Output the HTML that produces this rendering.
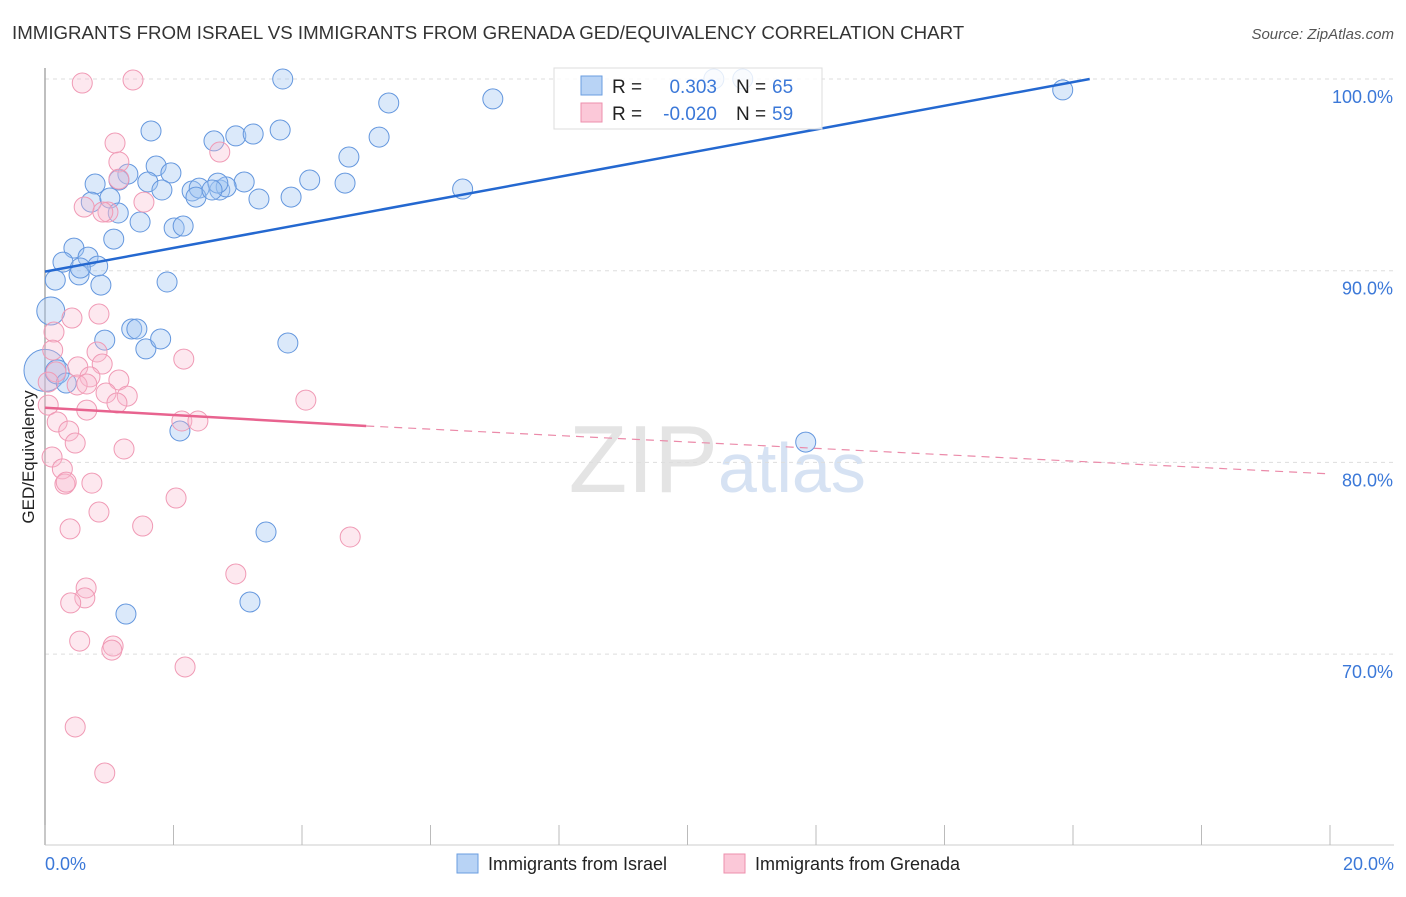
<!DOCTYPE html>
<html><head><meta charset="utf-8">
<style>
body{margin:0;background:#fff;font-family:"Liberation Sans",sans-serif;}
svg text{font-family:"Liberation Sans",sans-serif;}
</style></head>
<body>
<svg id="chart" width="1406" height="892" xmlns="http://www.w3.org/2000/svg">
<text x="12" y="39" font-size="18.7" fill="#333">IMMIGRANTS FROM ISRAEL VS IMMIGRANTS FROM GRENADA GED/EQUIVALENCY CORRELATION CHART</text>
<text x="1394" y="39" font-size="15" fill="#555" font-style="italic" text-anchor="end">Source: ZipAtlas.com</text>
<text x="718" y="492" font-size="96" fill="#e4e4e4" text-anchor="end" font-family="Liberation Serif">ZIP</text>
<text x="718" y="492" font-size="70" fill="#d6e2f3">atlas</text>
<g id="grid"></g>
<g id="axes"></g>
<g id="points"></g>
<g id="trends"></g>
<text transform="translate(34,457) rotate(-90)" font-size="17" fill="#222" text-anchor="middle">GED/Equivalency</text>
<g>
<rect x="554" y="68" width="268" height="61" fill="rgba(255,255,255,0.82)" stroke="#ddd"/>
<rect x="581" y="76" width="21" height="19" fill="#b8d3f5" stroke="#6a9ee0"/>
<rect x="581" y="103" width="21" height="19" fill="#fbc8d8" stroke="#ee8fad"/>
<text x="612" y="93" font-size="19" fill="#222">R =</text>
<text x="717" y="93" font-size="19" fill="#3b78d8" text-anchor="end">0.303</text>
<text x="736" y="93" font-size="19" fill="#222">N =</text>
<text x="772" y="93" font-size="19" fill="#3b78d8">65</text>
<text x="612" y="120" font-size="19" fill="#222">R =</text>
<text x="717" y="120" font-size="19" fill="#3b78d8" text-anchor="end">-0.020</text>
<text x="736" y="120" font-size="19" fill="#222">N =</text>
<text x="772" y="120" font-size="19" fill="#3b78d8">59</text>
</g>
<g>
<rect x="457" y="854" width="21" height="19" fill="#b8d3f5" stroke="#6a9ee0"/>
<text x="488" y="870" font-size="18" fill="#222">Immigrants from Israel</text>
<rect x="724" y="854" width="21" height="19" fill="#fbc8d8" stroke="#ee8fad"/>
<text x="755" y="870" font-size="18" fill="#222">Immigrants from Grenada</text>
</g>
</svg>
<script>
const yTicks=[100,90,80,70];
const yTickLabels=["100.0%","90.0%","80.0%","70.0%"];
const xTickLabels=["0.0%","20.0%"];
const israelX=[3.70,10.41,10.86,5.35,6.97,15.84,1.65,5.20,2.63,2.97,3.24,3.66,4.73,1.73,1.29,1.96,0.78,1.60,1.15,4.12,4.67,3.10,6.50,1.82,2.29,2.40,2.35,2.72,2.82,2.69,2.60,3.33,3.83,0.72,1.01,1.14,1.48,2.01,2.15,1.07,0.45,0.67,0.28,0.82,0.53,0.55,0.16,0.87,1.90,0.09,1.35,1.43,0.93,1.57,1.80,3.78,0.0,0.19,0.33,2.10,11.84,3.44,1.26,3.19];
const israelY=[100.0,100.0,100.0,98.75,98.96,99.43,97.29,96.97,96.77,97.03,97.13,97.34,95.93,95.46,95.04,95.10,94.52,94.63,94.73,94.73,94.57,94.63,94.26,94.21,94.16,94.31,93.84,94.21,94.37,94.57,94.21,93.74,93.84,93.58,93.79,93.01,92.54,92.23,92.33,91.65,91.18,90.71,90.45,90.24,89.78,90.14,89.51,89.25,89.41,87.90,86.96,86.96,86.38,85.92,86.44,86.23,84.8,84.72,84.14,81.64,81.06,76.37,72.09,72.72];
const israelSize=[10,10,10,10,10,10,10,10,10,10,10,10,10,10,10,10,10,10,10,10,10,10,10,10,10,10,10,10,10,10,10,10,10,10,10,10,10,10,10,10,10,10,10,10,10,10,10,10,10,14,10,10,10,10,10,10,21,12,10,10,10,10,10,10];
const grenadaX=[0.58,1.37,1.09,1.15,2.72,1.15,0.61,0.98,0.90,1.54,0.14,0.42,0.84,0.12,0.81,2.16,0.51,0.89,0.17,0.05,0.70,0.50,1.15,0.65,0.95,1.28,4.06,0.05,1.12,0.65,0.19,2.13,2.38,0.37,0.47,1.23,0.11,0.27,0.31,0.33,0.73,2.04,0.84,0.39,1.52,4.75,2.97,0.64,0.62,0.40,0.54,1.06,1.04,2.18,0.47,0.93];
const grenadaY=[99.79,99.95,96.66,95.67,96.19,94.78,93.32,93.06,93.06,93.58,86.80,87.53,87.74,85.86,85.76,85.39,84.98,85.13,84.72,84.19,84.46,84.04,84.30,84.09,83.62,83.46,83.25,82.99,83.10,82.73,82.11,82.16,82.16,81.64,81.01,80.70,80.28,79.66,78.87,78.97,78.92,78.14,77.41,76.53,76.68,76.11,74.18,73.45,72.93,72.67,70.68,70.42,70.21,69.33,66.20,63.80];
const israelTrend=[[0,89.95],[16.26,100]];
const grenadaTrendSolid=[[0,82.85],[5.0,81.9]];
const grenadaTrendDash=[[5.0,81.9],[20,79.4]];

const NS="http://www.w3.org/2000/svg";
const X0=45,X1=1330,Y100=79,PXPER=19.17;
function sx(v){return X0+(X1-X0)*v/20;}
function sy(v){return Y100+(100-v)*PXPER;}
function mk(tag,attrs,parent){const e=document.createElementNS(NS,tag);for(const k in attrs)e.setAttribute(k,attrs[k]);parent.appendChild(e);return e;}
const grid=document.getElementById('grid'),axes=document.getElementById('axes'),pts=document.getElementById('points'),tr=document.getElementById('trends');
yTicks.forEach((t,i)=>{
  const l=mk('line',{x1:X0,x2:1394,y1:sy(t),y2:sy(t),stroke:'#ddd','stroke-dasharray':'4,4'},grid);
  
  
  const tx=mk('text',{x:1393,y:sy(t)+24,'font-size':18,fill:'#3b78d8','text-anchor':'end'},axes);
  tx.textContent=yTickLabels[i];
  
  
});
const ax=mk('line',{x1:X0,x2:X0,y1:68,y2:845,stroke:'#aaa','stroke-width':1.5},axes);


const bx=mk('line',{x1:X0,x2:1394,y1:845,y2:845,stroke:'#ccc'},axes);


for(let i=0;i<=10;i++){
  const t=mk('line',{x1:sx(i*2),x2:sx(i*2),y1:825,y2:845,stroke:'#bbb'},axes);
  
  
}
[[0,'start',45],[20,'end',1394]].forEach((d,i)=>{
  const t=mk('text',{x:d[2],y:870,'font-size':18,fill:'#3b78d8','text-anchor':d[1]},axes);
  t.textContent=xTickLabels[i];
  
  
});
israelX.forEach((x,i)=>{
  const c=mk('circle',{cx:sx(x),cy:sy(israelY[i]),r:israelSize[i],fill:'rgba(160,196,242,0.38)',stroke:'#6497de','stroke-width':1},pts);
  
  
});
grenadaX.forEach((x,i)=>{
  const c=mk('circle',{cx:sx(x),cy:sy(grenadaY[i]),r:10,fill:'rgba(248,185,205,0.33)',stroke:'#f09ab5','stroke-width':1},pts);
  
  
});
const l1=mk('line',{x1:sx(israelTrend[0][0]),y1:sy(israelTrend[0][1]),x2:sx(israelTrend[1][0]),y2:sy(israelTrend[1][1]),stroke:'#2468d0','stroke-width':2.5},tr);


const l2=mk('line',{x1:sx(grenadaTrendSolid[0][0]),y1:sy(grenadaTrendSolid[0][1]),x2:sx(grenadaTrendSolid[1][0]),y2:sy(grenadaTrendSolid[1][1]),stroke:'#e8638f','stroke-width':2.5},tr);


const l3=mk('line',{x1:sx(grenadaTrendDash[0][0]),y1:sy(grenadaTrendDash[0][1]),x2:sx(grenadaTrendDash[1][0]),y2:sy(grenadaTrendDash[1][1]),stroke:'#eb8aa9','stroke-width':1.2,'stroke-dasharray':'8,6'},tr);


</script>
</body></html>
